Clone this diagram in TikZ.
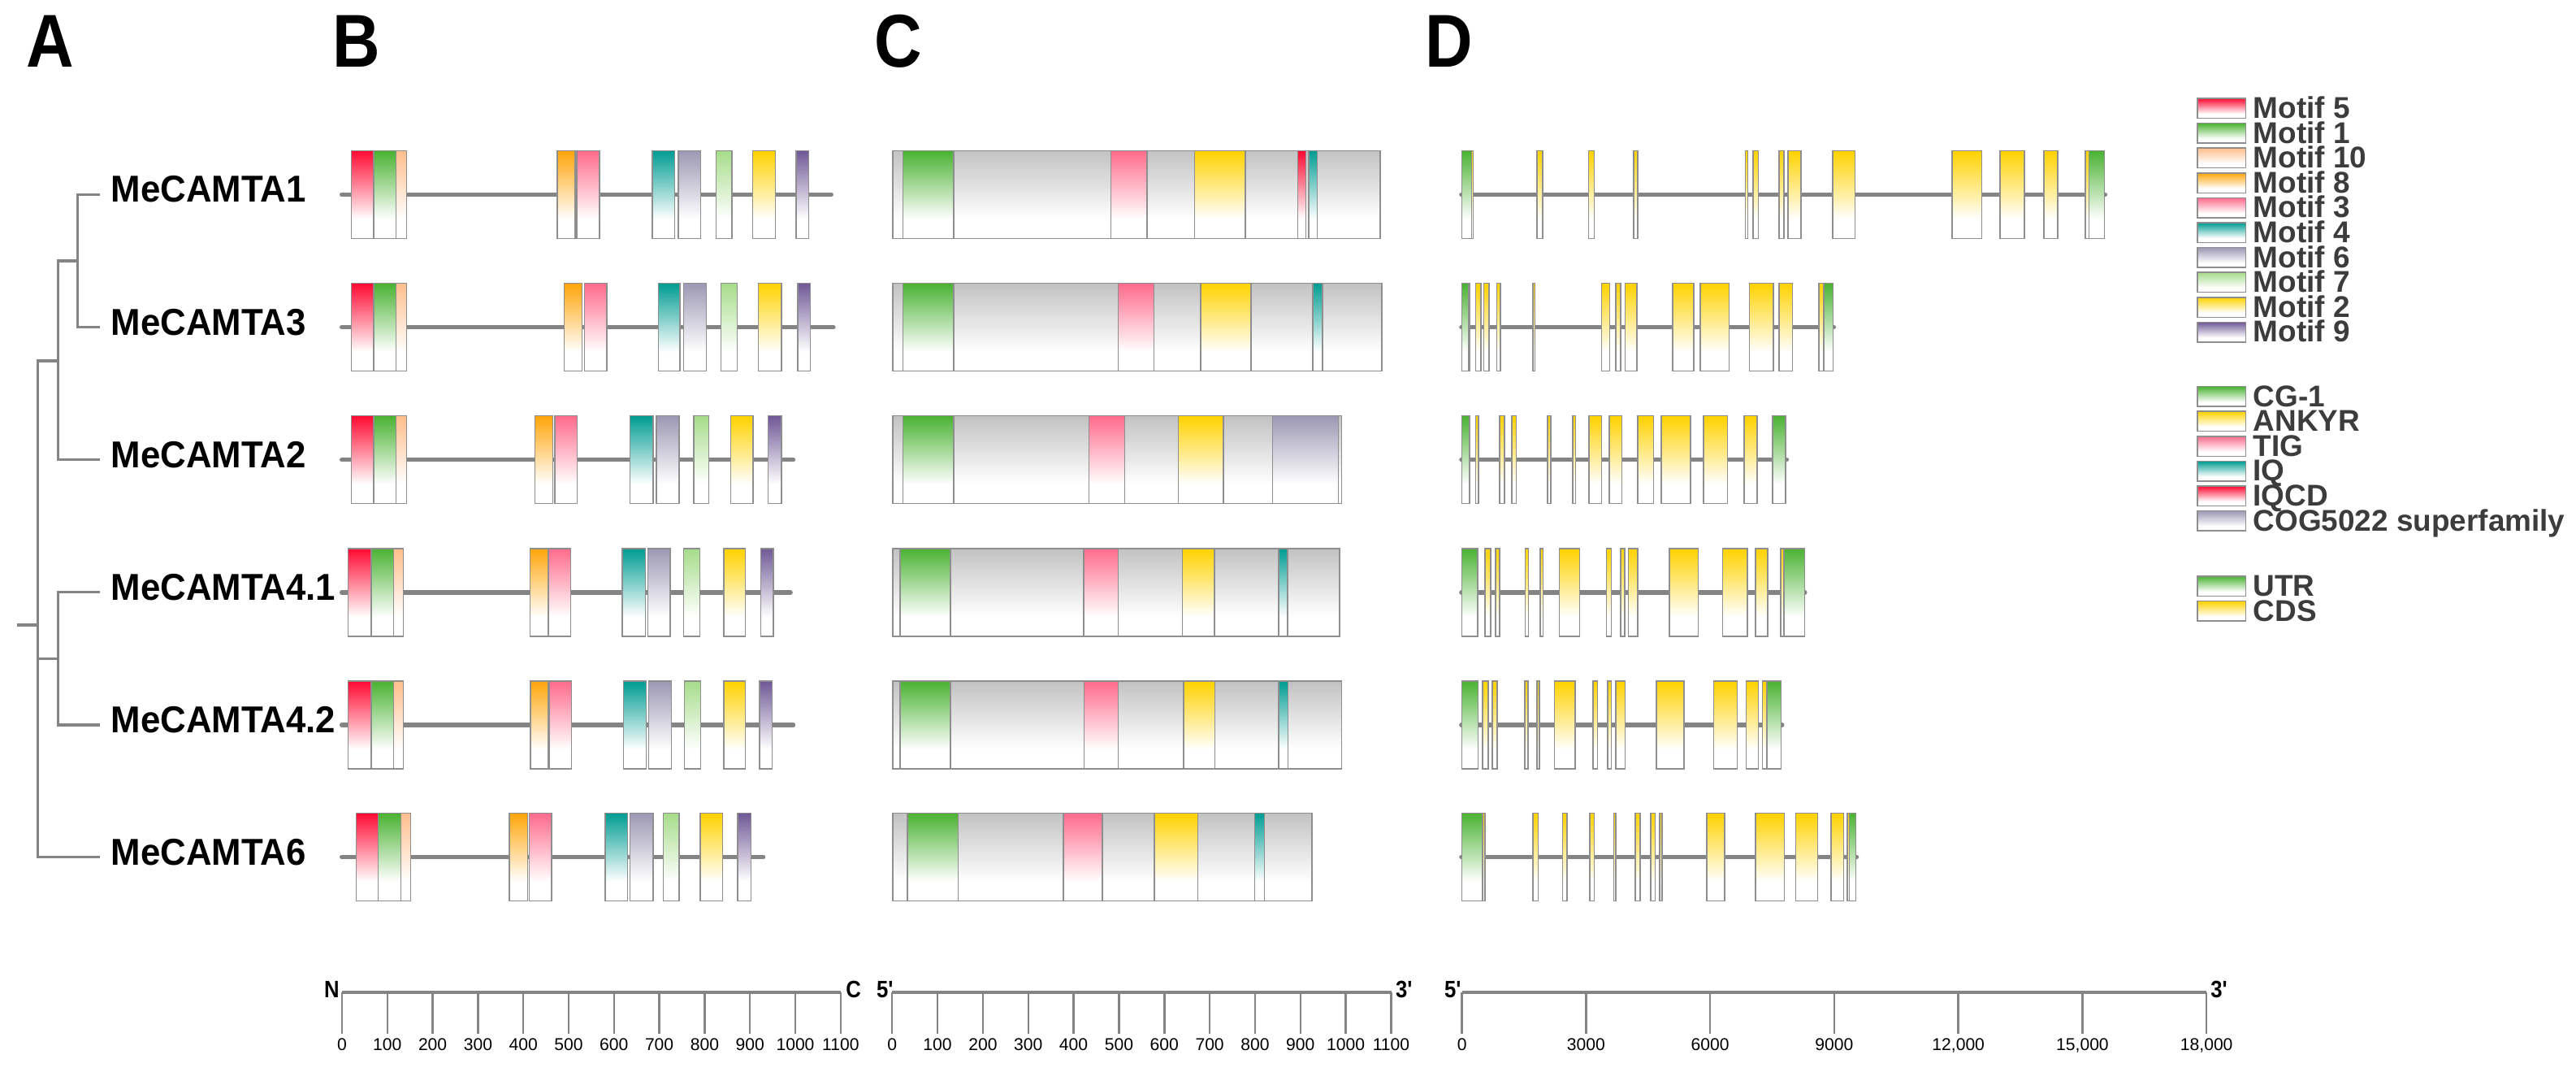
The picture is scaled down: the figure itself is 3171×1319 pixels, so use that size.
\documentclass[tikz,border=0pt]{standalone}
\usepackage{fontspec}
\setmainfont{Liberation Sans}
\newfontfamily\panelfont{Liberation Sans}[FakeStretch=0.88]
\newfontfamily\namefont{Liberation Sans}[FakeStretch=0.95]
\usetikzlibrary{positioning}

\definecolor{m5}{HTML}{FF0A32}
\definecolor{m1}{HTML}{4AB232}
\definecolor{m10}{HTML}{FFBE8C}
\definecolor{m8}{HTML}{FFA50A}
\definecolor{m3}{HTML}{FF6B8C}
\definecolor{m4}{HTML}{009C92}
\definecolor{m6}{HTML}{9C98B4}
\definecolor{m7}{HTML}{A6DC8A}
\definecolor{m2}{HTML}{FFD200}
\definecolor{m9}{HTML}{6F5896}
\definecolor{prot}{HTML}{C2C2C2}
\colorlet{utr}{m1}
\colorlet{cds}{m2}
\definecolor{boxline}{HTML}{8E8E8E}
\definecolor{stem}{HTML}{848484}
\definecolor{legtext}{HTML}{3C3C3C}
\colorlet{fadecol}{white}

\pgfdeclareverticalshading[fadecol]{fade}{100bp}{color(0bp)=(white); color(36bp)=(white); color(75bp)=(fadecol); color(100bp)=(fadecol)}

% one row of faded boxes: y, list of left/right/colour
\newcommand{\boxrow}[2]{%
  \foreach \xa/\xb/\col in {#2}
    \draw[motifbox=\col] (\xa,#1-54) rectangle (\xb,#1+54);
}

\begin{document}
\begin{tikzpicture}[x=0.01cm, y=-0.01cm,
    motifbox/.style={draw=boxline, line width=0.45pt, shading=fade, /utils/exec={\colorlet{fadecol}{#1}}}]
  \tikzstyle{branch} = [draw=stem, line width=0.9pt]
  \tikzstyle{protein} = [draw=stem, line width=1.5pt, line cap=round]
  \tikzstyle{gname} = [font=\namefont\bfseries\fontsize{13.1}{14}\selectfont, inner xsep=3.8pt, inner ysep=0pt, yshift=1.8pt]
  \tikzstyle{panel} = [font=\panelfont\bfseries\fontsize{26.2}{28}\selectfont, inner sep=0pt, anchor=base west]
  \tikzstyle{legtxt} = [font=\bfseries\fontsize{10.5}{11}\selectfont, text=legtext, inner sep=0pt, anchor=base west]
  \tikzstyle{axisline} = [draw=stem, line width=1.1pt]
  \tikzstyle{axistick} = [draw=stem, line width=0.7pt]
  \tikzstyle{ticklab} = [font=\fontsize{6}{7}\selectfont, inner sep=0pt, anchor=base]
  \tikzstyle{endlab} = [font=\panelfont\bfseries\fontsize{8.3}{9}\selectfont, inner sep=0pt]

  \useasboundingbox (0,0) rectangle (3171,1319);

  % panel letters
  \node[panel] (pA) at (32,83) {A};
  \node[panel] (pB) at (409,83) {B};
  \node[panel] (pC) at (1076,83) {C};
  \node[panel] (pD) at (1754,83) {D};

  % tree
  \coordinate (base) at (21.4,769);
  \coordinate (root) at (46.9,769);
  \coordinate (n12) at (71.7,444);
  \coordinate (n13) at (95.8,321);
  \coordinate (n4) at (71.7,810.4);
  \foreach \i/\y in {1/239.4, 3/402.6, 2/565.7, 41/728.9, 42/892, 6/1054.5}
    \coordinate (leaf\i) at (122.6,\y);
  \draw[branch] (base) -- (root);
  \foreach \from/\to in {n13/leaf1, n13/leaf3, n12/n13, n12/leaf2, n4/leaf41, n4/leaf42, root/n12, root/n4, root/leaf6}
    \draw[branch] (\from) |- (\to);
  \foreach \i/\t in {1/MeCAMTA1, 3/MeCAMTA3, 2/MeCAMTA2, 41/MeCAMTA4.1, 42/MeCAMTA4.2, 6/MeCAMTA6}
    \node[gname, right=0pt of leaf\i] (g\i) {\t};

  % B: motifs
  \foreach \y/\e in {239.4/1023.4, 402.6/1026, 565.7/976.6, 728.9/973.2, 892/976.6, 1054.5/939.7}
    \draw[protein] (420.6,\y) -- (\e,\y);
  \boxrow{239.4}{432.7/460.2/m5, 460.2/487.6/m1, 487.6/500.3/m10, 685.9/708/m8, 710/738.1/m3, 803/830.5/m4, 835.2/862.7/m6, 881.4/900.9/m7, 926.3/954.5/m2, 979.9/995.3/m9}
  \boxrow{402.6}{432.7/460.2/m5, 460.2/487.6/m1, 487.6/500.3/m10, 694.6/716.7/m8, 719.4/746.8/m3, 810.4/837.2/m4, 841.3/869.4/m6, 887.5/907.6/m7, 933.7/961.8/m2, 981.9/997.3/m9}
  \boxrow{565.7}{432.7/460.2/m5, 460.2/487.6/m1, 487.6/500.3/m10, 658.4/680.5/m8, 683.2/710.6/m3, 775.6/803.8/m4, 807.8/835.9/m6, 854/872.7/m7, 899.5/927/m2, 945.7/961.8/m9}
  \boxrow{728.9}{428.7/456.8/m5, 456.8/484.3/m1, 484.3/496.3/m10, 652.4/674.5/m8, 675.2/702.6/m3, 766.2/794.4/m4, 797.7/825.2/m6, 841.3/861.4/m7, 890.8/917.6/m2, 936.4/951.8/m9}
  \boxrow{892}{428.7/456.8/m5, 456.8/484.3/m1, 484.3/496.3/m10, 653/675.2/m8, 676.5/703.3/m3, 767.6/795.7/m4, 798.4/826.5/m6, 842.6/862.7/m7, 890.8/917.6/m2, 935/950.4/m9}
  \boxrow{1054.5}{438.7/465.5/m5, 465.5/493.6/m1, 493.6/505.7/m10, 626.9/649.7/m8, 651.7/679.2/m3, 744.8/772.3/m4, 775.6/803.8/m6, 816.5/835.9/m7, 862/889.5/m2, 908.2/924.3/m9}

  % C: domains
  \boxrow{239.4}{1099.1/1698.7/prot, 1111.6/1174.1/m1, 1367.4/1412/m3, 1470.5/1533/m2, 1597.3/1607.6/m5, 1610.7/1621.4/m4}
  \boxrow{402.6}{1099.1/1700.9/prot, 1111.6/1174.1/m1, 1376.3/1420.5/m3, 1477.7/1540.2/m2, 1616/1628.1/m4}
  \boxrow{565.7}{1099.1/1651.3/prot, 1111.6/1174.1/m1, 1340.6/1384.4/m3, 1450.4/1505.8/m2, 1566.5/1647.3/m6}
  \boxrow{728.9}{1099.1/1648.7/prot, 1108/1170.1/m1, 1333.9/1376.3/m3, 1455.4/1495.1/m2, 1573.7/1584.8/m4}
  \boxrow{892}{1099.1/1651.3/prot, 1108/1170.1/m1, 1334.4/1376.3/m3, 1456.7/1495.5/m2, 1574.1/1585.3/m4}
  \boxrow{1054.5}{1099.1/1615.2/prot, 1117/1179.5/m1, 1308.9/1357.1/m3, 1421/1474.6/m2, 1544.6/1556.3/m4}

  % D: gene structure
  \foreach \y/\e in {239.4/2591.5, 402.6/2257.5, 565.7/2199.5, 728.9/2221.9, 892/2193.8, 1054.5/2285.6}
    \draw[protein] (1798.8,\y) -- (\e,\y);
  \boxrow{239.4}{1799.4/1811.4/utr, 1811.4/1813.4/cds, 1891.8/1898.7/cds, 1955.5/1962.4/cds, 2011.2/2015.8/cds, 2148.4/2151.3/cds, 2158.2/2164.5/cds, 2189.7/2196/cds, 2201.2/2216.7/cds, 2255.7/2283.3/cds, 2402.7/2439.4/cds, 2461.8/2491.7/cds, 2515.8/2533/cds, 2566.9/2571.5/cds, 2571.5/2590.4/utr}
  \boxrow{402.6}{1799.4/1808/utr, 1808/1809.5/cds, 1816.6/1822.9/cds, 1826.4/1832.7/cds, 1842.4/1847/cds, 1887.2/1889.5/cds, 1971.6/1981.3/cds, 1988.8/1995.1/cds, 2000.3/2015.2/cds, 2058.8/2085.2/cds, 2092.7/2128.3/cds, 2153.6/2182.8/cds, 2189.7/2206.4/cds, 2239.1/2244.8/cds, 2244.8/2256.3/utr}
  \boxrow{565.7}{1799.4/1809.1/utr, 1816.6/1820/cds, 1845.9/1852.2/cds, 1860.8/1866.5/cds, 1905/1909/cds, 1936/1939.4/cds, 1956.1/1971.6/cds, 1980.8/1996.3/cds, 2015.8/2035.3/cds, 2045.1/2081.2/cds, 2096.7/2126.6/cds, 2146.7/2162.7/cds, 2181.7/2197.8/utr}
  \boxrow{728.9}{1799.4/1818.9/utr, 1828.1/1835/cds, 1840.7/1845.9/cds, 1877.4/1881.5/cds, 1895.8/1899.3/cds, 1919.3/1944.6/cds, 1977.3/1983.6/cds, 1995.1/1999.7/cds, 2004.3/2015.8/cds, 2054.8/2090.4/cds, 2120.3/2150.7/cds, 2161/2176/cds, 2192/2196/cds, 2196/2221.3/utr}
  \boxrow{892}{1799.4/1819.5/utr, 1825.2/1832.1/cds, 1836.7/1843/cds, 1876.9/1880.9/cds, 1891.8/1895.2/cds, 1913.6/1938.9/cds, 1960.7/1966.4/cds, 1979/1983.6/cds, 1988.8/2000.3/cds, 2038.7/2073.2/cds, 2109.4/2138.6/cds, 2149.5/2164.5/cds, 2169.6/2174.8/cds, 2174.8/2192.6/utr}
  \boxrow{1054.5}{1799.4/1825.2/utr, 1825.2/1828.1/cds, 1887.2/1893.5/cds, 1923.4/1929.1/cds, 1957.2/1962.4/cds, 1986.5/1988.8/cds, 2012.9/2019.2/cds, 2031.9/2037.6/cds, 2042.8/2046.2/cds, 2100.7/2123.1/cds, 2161/2196.6/cds, 2210.4/2237.4/cds, 2254/2269.5/cds, 2274.1/2276.4/cds, 2276.4/2284.4/utr}

  % legend
  \foreach \i/\c/\t in {0/m5/Motif 5, 1/m1/Motif 1, 2/m10/Motif 10, 3/m8/Motif 8, 4/m3/Motif 3, 5/m4/Motif 4, 6/m6/Motif 6, 7/m7/Motif 7, 8/m2/Motif 2, 9/m9/Motif 9}
  {
    \draw[motifbox=\c] (2704.8,121+30.6*\i) rectangle (2764.6,145.5+30.6*\i);
    \node[legtxt] (lm\i) at (2773,145.5+30.6*\i) {\t};
  }
  \foreach \i/\c/\t in {0/m1/CG-1, 1/m2/ANKYR, 2/m3/TIG, 3/m4/IQ, 4/m5/IQCD, 5/m6/COG5022 superfamily}
  {
    \draw[motifbox=\c] (2704.8,475.6+30.6*\i) rectangle (2764.6,500.1+30.6*\i);
    \node[legtxt] (ld\i) at (2773,500.1+30.6*\i) {\t};
  }
  \foreach \i/\c/\t in {0/utr/UTR, 1/cds/CDS}
  {
    \draw[motifbox=\c] (2704.8,709+30.6*\i) rectangle (2764.6,733.5+30.6*\i);
    \node[legtxt] (lg\i) at (2773,733.5+30.6*\i) {\t};
  }

  % scale bars
  \draw[axisline] (421,1221) -- (1034.8,1221);
  \foreach \i [evaluate=\i as \v using int(\i*100)] in {0,...,11}
  {
    \draw[axistick] (421+55.8*\i,1221) -- (421+55.8*\i,1272);
    \node[ticklab] (bt\i) at (421+55.8*\i,1293) {\v};
  }
  \node[endlab, anchor=base east] (bN) at (418.5,1227.7) {N};
  \node[endlab, anchor=base west] (bC) at (1040.7,1227.7) {C};

  \draw[axisline] (1098.2,1221) -- (1712.5,1221);
  \foreach \i [evaluate=\i as \v using int(\i*100)] in {0,...,11}
  {
    \draw[axistick] (1098.2+55.845*\i,1221) -- (1098.2+55.845*\i,1272);
    \node[ticklab] (ct\i) at (1098.2+55.845*\i,1293) {\v};
  }
  \node[endlab, anchor=base east] (c5) at (1101,1227.7) {5\textquotesingle};
  \node[endlab, anchor=base west] (c3) at (1717.4,1227.7) {3\textquotesingle};

  \draw[axisline] (1799.7,1221) -- (2716.2,1221);
  \foreach \i/\t in {0/0, 1/3000, 2/6000, 3/9000, 4/{12,000}, 5/{15,000}, 6/{18,000}}
  {
    \draw[axistick] (1799.7+152.75*\i,1221) -- (1799.7+152.75*\i,1272);
    \node[ticklab] (dt\i) at (1799.7+152.75*\i,1293) {\t};
  }
  \node[endlab, anchor=base east] (d5) at (1800,1227.7) {5\textquotesingle};
  \node[endlab, anchor=base west] (d3) at (2720.7,1227.7) {3\textquotesingle};
\end{tikzpicture}
\end{document}
